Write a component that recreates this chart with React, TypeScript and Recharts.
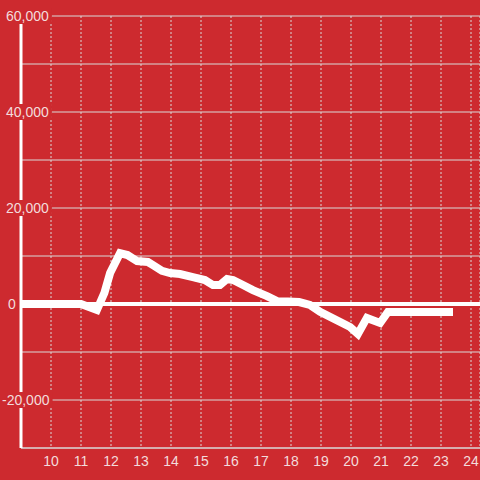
import React from 'react';
import { LineChart, Line, XAxis, YAxis, CartesianGrid, ReferenceLine } from 'recharts';

// hour of day vs. value
const hours = [
  9, 11, 11.53, 11.78, 11.97, 12.3, 12.55, 12.87, 13.23, 13.4, 13.7, 13.97, 14.3, 14.73,
  15.13, 15.4, 15.63, 15.87, 16.07, 16.4, 16.73, 17.2, 17.57, 17.9, 18.27, 18.63, 18.97,
  19.97, 20.23, 20.53, 20.97, 21.23, 21.4, 23.4,
];
const values = [
  0, 0, -1250, 2300, 6450, 10600, 10200, 8950, 8750, 8100, 6900, 6450, 6250, 5600,
  5000, 3950, 3950, 5200, 5000, 3950, 2900, 1650, 500, 500, 400, -200, -1650,
  -4800, -6250, -2900, -3950, -1650, -1650, -1650,
];
const xTicks = [10, 11, 12, 13, 14, 15, 16, 17, 18, 19, 20, 21, 22, 23, 24];
const yTicks = [-30000, -20000, -10000, 0, 10000, 20000, 30000, 40000, 50000, 60000];
const yLabels = [-20000, 0, 20000, 40000, 60000];

const BG = '#cd2a2f';
const TEXT = '#f3dcdc';
const GRID = '#d9d9d9';

const data = hours.map((h, i) => ({ h, v: values[i] }));

const charW = (c: string) => (c === ',' ? 3.9 : c === '-' ? 4.7 : 7.8);

function YTick(props: any) {
  const { y, payload } = props;
  const value = payload.value as number;
  if (!yLabels.includes(value)) return <g />;
  const label = value.toLocaleString('en-US');
  const w = label.split('').reduce((s, c) => s + charW(c), 0);
  const start = value === 0 ? 8 : value < 0 ? 2 : 6;
  return (
    <g>
      <rect x={start - 2} y={y - 8} width={w + 5} height={16} fill={BG} />
      <text x={start} y={y} dy="0.35em" fill={TEXT} fontSize={14} textAnchor="start">
        {label}
      </text>
    </g>
  );
}

export default function App() {
  return (
    <div style={{ position: 'absolute', left: 0, top: 0, width: 480, height: 480, background: BG }}>
      <LineChart
        width={480}
        height={480}
        data={data}
        margin={{ top: 16, right: 0, left: 20, bottom: 0 }}
        style={{ fontFamily: '"Liberation Sans", Arial, sans-serif' }}
      >
        <CartesianGrid horizontal={false} stroke={GRID} strokeDasharray="2 2" />
        <CartesianGrid vertical={false} stroke={GRID} />
        <XAxis
          dataKey="h"
          type="number"
          domain={[9, 24.3]}
          ticks={xTicks}
          allowDataOverflow
          height={32}
          tickLine={false}
          axisLine={{ stroke: GRID, strokeWidth: 1 }}
          tick={{ fill: TEXT, fontSize: 14 }}
        />
        <ReferenceLine y={0} stroke="#ffffff" strokeWidth={4} />
        <Line
          dataKey="v"
          type="linear"
          stroke="#ffffff"
          strokeWidth={8}
          dot={false}
          isAnimationActive={false}
        />
        <YAxis
          type="number"
          domain={[-30000, 60000]}
          ticks={yTicks}
          interval={0}
          width={1}
          tickLine={false}
          axisLine={{ stroke: '#ffffff', strokeWidth: 3 }}
          tick={YTick}
        />
      </LineChart>
    </div>
  );
}
